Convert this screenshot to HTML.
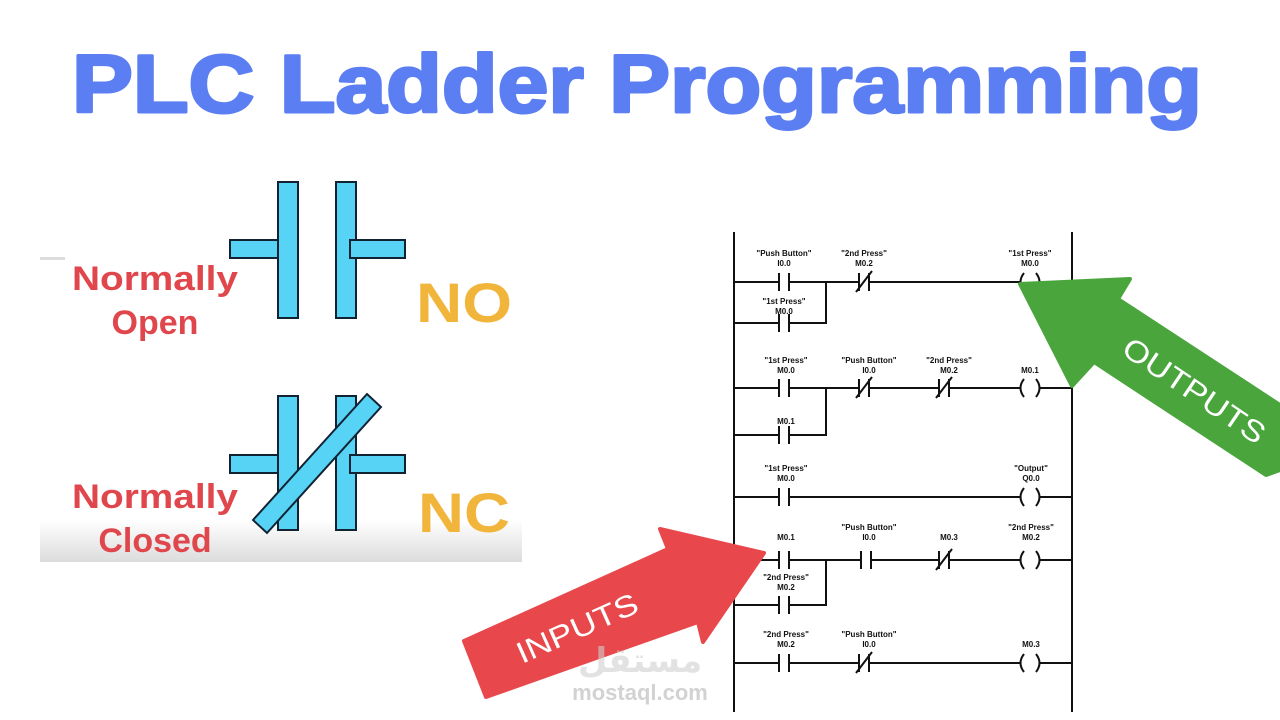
<!DOCTYPE html>
<html><head><meta charset="utf-8"><style>
html,body{margin:0;padding:0;background:#fff;}
svg{display:block}
.l{font-family:"Liberation Sans",sans-serif;font-weight:bold;font-size:8px;fill:#111;text-anchor:middle}
</style></head><body>
<svg width="1280" height="720" viewBox="0 0 1280 720" xmlns="http://www.w3.org/2000/svg">
<defs>
<linearGradient id="g" x1="0" y1="0" x2="0" y2="1"><stop offset="0" stop-color="#fff"/><stop offset="1" stop-color="#dcdcdc"/></linearGradient>
</defs>
<rect width="1280" height="720" fill="#fff"/>
<text x="637" y="112" text-anchor="middle" font-family="Liberation Sans,sans-serif" font-weight="bold" font-size="82" fill="#5b7ef2" stroke="#5b7ef2" stroke-width="3" stroke-linejoin="round" textLength="1130" lengthAdjust="spacingAndGlyphs">PLC Ladder Programming</text>

<!-- left panel -->
<rect x="40" y="520" width="482" height="42" fill="url(#g)"/>
<rect x="40" y="257" width="25" height="3" fill="#ddd"/>
<g fill="#56d3f5" stroke="#123" stroke-width="2">
<rect x="230" y="240" width="55" height="18"/>
<rect x="278" y="182" width="20" height="136"/>
<rect x="336" y="182" width="20" height="136"/>
<rect x="350" y="240" width="55" height="18"/>
<rect x="230" y="455" width="55" height="18"/>
<rect x="278" y="396" width="20" height="134"/>
<rect x="336" y="396" width="20" height="134"/>
<rect x="350" y="455" width="55" height="18"/>
<polygon points="253,520 367,394 381,407 267,533"/>
</g>
<g font-family="Liberation Sans,sans-serif" font-weight="bold" fill="#e0474c" font-size="34" text-anchor="middle">
<text x="155" y="290" textLength="166" lengthAdjust="spacingAndGlyphs">Normally</text>
<text x="155" y="334">Open</text>
<text x="155" y="508" textLength="166" lengthAdjust="spacingAndGlyphs">Normally</text>
<text x="155" y="552">Closed</text>
</g>
<g font-family="Liberation Sans,sans-serif" font-weight="bold" fill="#f2b53c" font-size="56">
<text x="416" y="322" textLength="96" lengthAdjust="spacingAndGlyphs">NO</text>
<text x="418" y="532" textLength="92" lengthAdjust="spacingAndGlyphs">NC</text>
</g>

<!-- ladder -->
<g stroke="#111" stroke-width="2" fill="none">
<line x1="734" y1="232" x2="734" y2="712"/>
<line x1="1072" y1="232" x2="1072" y2="712"/>
<!-- rung1 -->
<path d="M734 282H778M790 282H858M870 282H1020M1040 282H1072"/>
<path d="M734 323H778M790 323H826V282"/>
<!-- rung2 -->
<path d="M734 388H778M790 388H858M870 388H938M950 388H1020M1040 388H1072"/>
<path d="M734 435H778M790 435H826V388"/>
<!-- rung3 -->
<path d="M734 497H778M790 497H1020M1040 497H1072"/>
<!-- rung4 -->
<path d="M734 560H778M790 560H860M872 560H938M950 560H1020M1040 560H1072"/>
<path d="M734 605H778M790 605H826V560"/>
<!-- rung5 -->
<path d="M734 663H778M790 663H858M870 663H1020M1040 663H1072"/>
<!-- NO contacts -->
<path d="M779 273V291M789 273V291 M779 314V332M789 314V332 M779 379V397M789 379V397 M779 426V444M789 426V444 M779 488V506M789 488V506 M779 551V569M789 551V569 M779 596V614M789 596V614 M779 654V672M789 654V672 M861 551V569M871 551V569"/>
<!-- NC contacts -->
<path d="M859 273V291M869 273V291M856 292L872 271 M859 379V397M869 379V397M856 398L872 377 M939 379V397M949 379V397M936 398L952 377 M939 551V569M949 551V569M936 570L952 549 M859 654V672M869 654V672M856 673L872 652"/>
<!-- coils -->
<path d="M1024 273Q1017 282 1024 291M1036 273Q1043 282 1036 291 M1024 379Q1017 388 1024 397M1036 379Q1043 388 1036 397 M1024 488Q1017 497 1024 506M1036 488Q1043 497 1036 506 M1024 551Q1017 560 1024 569M1036 551Q1043 560 1036 569 M1024 654Q1017 663 1024 672M1036 654Q1043 663 1036 672"/>
</g>
<g class="l">
<text class="l" x="784" y="256">"Push Button"</text><text class="l" x="784" y="266">I0.0</text>
<text class="l" x="864" y="256">"2nd Press"</text><text class="l" x="864" y="266">M0.2</text>
<text class="l" x="1030" y="256">"1st Press"</text><text class="l" x="1030" y="266">M0.0</text>
<text class="l" x="784" y="304">"1st Press"</text><text class="l" x="784" y="314">M0.0</text>
<text class="l" x="786" y="363">"1st Press"</text><text class="l" x="786" y="373">M0.0</text>
<text class="l" x="869" y="363">"Push Button"</text><text class="l" x="869" y="373">I0.0</text>
<text class="l" x="949" y="363">"2nd Press"</text><text class="l" x="949" y="373">M0.2</text>
<text class="l" x="1030" y="373">M0.1</text>
<text class="l" x="786" y="424">M0.1</text>
<text class="l" x="786" y="471">"1st Press"</text><text class="l" x="786" y="481">M0.0</text>
<text class="l" x="1031" y="471">"Output"</text><text class="l" x="1031" y="481">Q0.0</text>
<text class="l" x="869" y="530">"Push Button"</text><text class="l" x="869" y="540">I0.0</text>
<text class="l" x="786" y="540">M0.1</text>
<text class="l" x="949" y="540">M0.3</text>
<text class="l" x="1031" y="530">"2nd Press"</text><text class="l" x="1031" y="540">M0.2</text>
<text class="l" x="786" y="580">"2nd Press"</text><text class="l" x="786" y="590">M0.2</text>
<text class="l" x="786" y="637">"2nd Press"</text><text class="l" x="786" y="647">M0.2</text>
<text class="l" x="869" y="637">"Push Button"</text><text class="l" x="869" y="647">I0.0</text>
<text class="l" x="1031" y="647">M0.3</text>
</g>

<!-- green arrow -->
<polygon points="1020,284 1130,279 1118,299 1280,405 1280,470 1266,475 1094,362 1072,386" fill="#49a53c" stroke="#49a53c" stroke-width="4" stroke-linejoin="round"/>
<text transform="translate(1120,353) rotate(34)" font-family="Liberation Sans,sans-serif" font-size="30" fill="#fff" textLength="165" lengthAdjust="spacingAndGlyphs">OUTPUTS</text>

<!-- red arrow -->
<polygon points="464,641 668,549 660,529 764,553 703,642 698,622 486,697" fill="#e8484b" stroke="#e8484b" stroke-width="4" stroke-linejoin="round"/>
<text transform="translate(522,664) rotate(-24)" font-family="Liberation Sans,sans-serif" font-size="30" fill="#fff" textLength="130" lengthAdjust="spacingAndGlyphs">INPUTS</text>

<!-- watermark -->
<text x="640" y="700" text-anchor="middle" font-family="Liberation Sans,sans-serif" font-weight="bold" font-size="22" fill="#c8c8c8" opacity="0.8">mostaql.com</text>
<text x="640" y="672" text-anchor="middle" font-family="DejaVu Sans,sans-serif" font-weight="bold" font-size="34" fill="#cfcfcf" opacity="0.6">مستقل</text>
</svg>
</body></html>
